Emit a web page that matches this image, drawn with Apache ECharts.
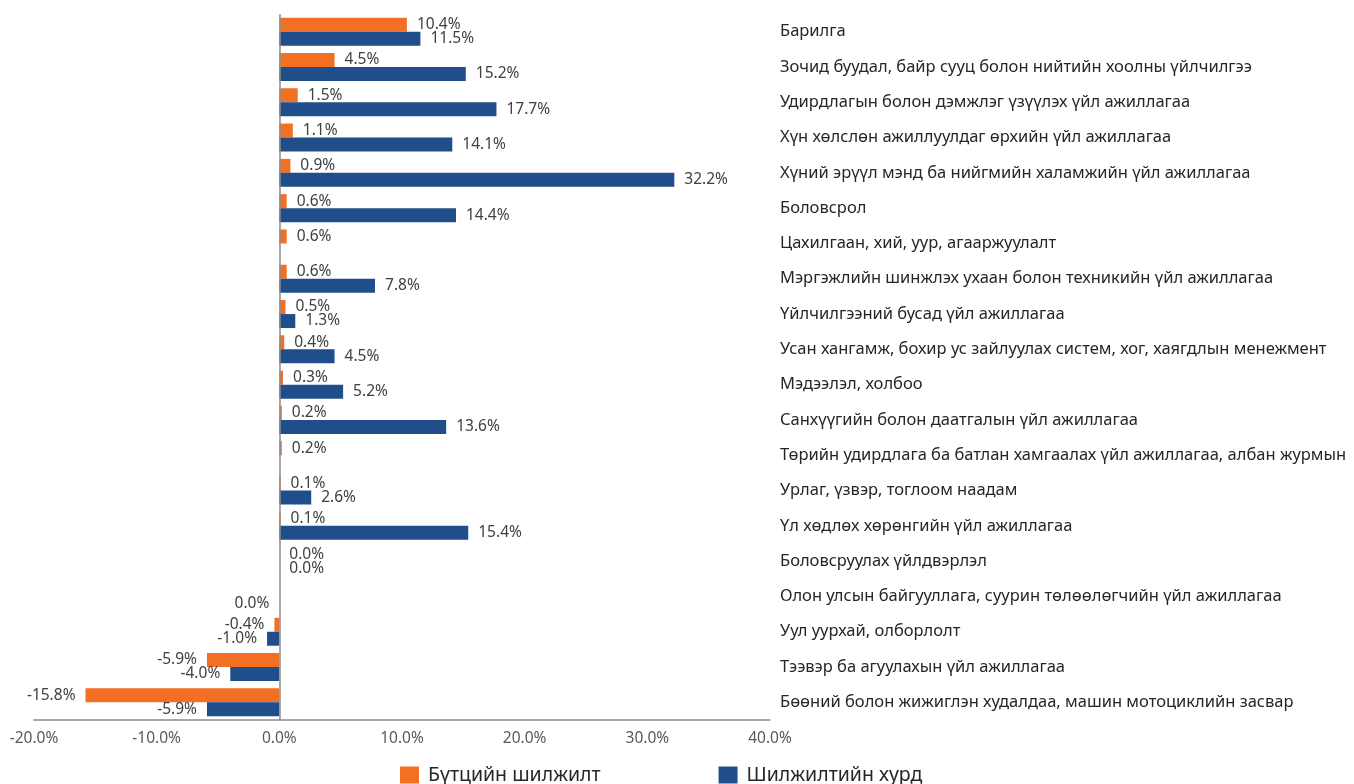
<!DOCTYPE html>
<html>
<head>
<meta charset="utf-8">
<script src="https://cdn.jsdelivr.net/npm/echarts@6/dist/echarts.min.js"></script>
<style>
  html, body { margin: 0; padding: 0; background: #fff; }
  #chart { width: 1354px; height: 784px; }
</style>
</head>
<body>
<div id="chart"></div>
<script>
var categories = [
  'Барилга',
  'Зочид буудал, байр сууц болон нийтийн хоолны үйлчилгээ',
  'Удирдлагын болон дэмжлэг үзүүлэх үйл ажиллагаа',
  'Хүн хөлслөн ажиллуулдаг өрхийн үйл ажиллагаа',
  'Хүний эрүүл мэнд ба нийгмийн халамжийн үйл ажиллагаа',
  'Боловсрол',
  'Цахилгаан, хий, уур, агааржуулалт',
  'Мэргэжлийн шинжлэх ухаан болон техникийн үйл ажиллагаа',
  'Үйлчилгээний бусад үйл ажиллагаа',
  'Усан хангамж, бохир ус зайлуулах систем, хог, хаягдлын менежмент',
  'Мэдээлэл, холбоо',
  'Санхүүгийн болон даатгалын үйл ажиллагаа',
  'Төрийн удирдлага ба батлан хамгаалах үйл ажиллагаа, албан журмын',
  'Урлаг, үзвэр, тоглоом наадам',
  'Үл хөдлөх хөрөнгийн үйл ажиллагаа',
  'Боловсруулах үйлдвэрлэл',
  'Олон улсын байгууллага, суурин төлөөлөгчийн үйл ажиллагаа',
  'Уул уурхай, олборлолт',
  'Тээвэр ба агуулахын үйл ажиллагаа',
  'Бөөний болон жижиглэн худалдаа, машин мотоциклийн засвар'
];
// Бүтцийн шилжилт
var structureShift = [10.4, 4.5, 1.5, 1.1, 0.9, 0.6, 0.6, 0.6, 0.5, 0.4, 0.3, 0.2, 0.2, 0.1, 0.1, 0.0, null, -0.4, -5.9, -15.8];
// Шилжилтийн хурд
var shiftRate = [11.5, 15.2, 17.7, 14.1, 32.2, 14.4, null, 7.8, 1.3, 4.5, 5.2, 13.6, null, 2.6, 15.4, 0.0, -0.001, -1.0, -4.0, -5.9];
var seriesNames = ['Бүтцийн шилжилт', 'Шилжилтийн хурд'];
var xTicks = [-20, -10, 0, 10, 20, 30, 40];

var fontFamily = '"Noto Sans", "Open Sans", sans-serif';

function fmt(v) {
  if (Math.abs(v) < 0.05) return '0.0%';
  return v.toFixed(1) + '%';
}

function toData(arr) {
  return arr.map(function (v) {
    if (v === null) return null;
    return {
      value: v,
      label: { position: v < 0 ? 'left' : 'right' }
    };
  });
}

var chart = echarts.init(document.getElementById('chart'));

chart.setOption({
  animation: false,
  textStyle: { fontFamily: fontFamily },
  grid: {
    left: 34,
    right: 584,
    top: 14,
    bottom: 64,
    containLabel: false
  },
  legend: {
    data: seriesNames,
    left: 400,
    top: 765,
    padding: 0,
    itemWidth: 19,
    itemHeight: 17,
    itemGap: 118,
    icon: 'rect',
    textStyle: { fontSize: 19.5, color: '#262626', fontFamily: fontFamily, lineHeight: 17, padding: [0, 0, 0, 4] }
  },
  xAxis: {
    type: 'value',
    min: xTicks[0],
    max: xTicks[xTicks.length - 1],
    interval: 10,
    axisLine: { show: true, onZero: false, lineStyle: { color: '#8c8c8c', width: 1.5 } },
    axisTick: { show: false },
    splitLine: { show: false },
    axisLabel: {
      margin: 11,
      fontSize: 15.5,
      color: '#595959',
      formatter: function (v) { return v.toFixed(1) + '%'; }
    }
  },
  yAxis: {
    type: 'category',
    data: categories,
    inverse: true,
    position: 'right',
    axisLine: { show: false },
    axisTick: { show: false },
    axisLabel: {
      margin: 10,
      fontSize: 16.5,
      color: '#262626',
      align: 'left'
    }
  },
  series: [
    {
      name: seriesNames[0],
      type: 'bar',
      data: toData(structureShift),
      barWidth: 14,
      barGap: '0%',
      itemStyle: { color: '#F36F23' },
      label: {
        show: true,
        distance: 10,
        fontSize: 15.5,
        color: '#404040',
        formatter: function (p) { return fmt(p.value); }
      },
      markLine: {
        silent: true,
        symbol: 'none',
        label: { show: false },
        lineStyle: { color: '#8c8c8c', type: 'solid', width: 1.5 },
        data: [{ xAxis: 0 }]
      }
    },
    {
      name: seriesNames[1],
      type: 'bar',
      data: toData(shiftRate),
      barWidth: 14,
      barGap: '0%',
      itemStyle: { color: '#1F4E8A' },
      label: {
        show: true,
        distance: 10,
        fontSize: 15.5,
        color: '#404040',
        formatter: function (p) { return fmt(p.value); }
      }
    }
  ]
});
</script>
</body>
</html>
